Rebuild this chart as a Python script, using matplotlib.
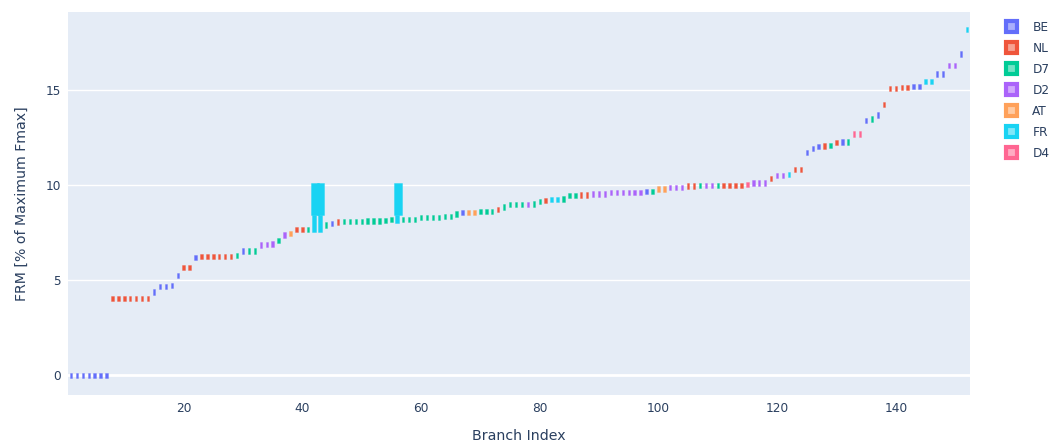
"""
FRM per branch, sorted ascending, coloured by country (plotly-style look).
"""
import matplotlib
matplotlib.use("Agg")
import matplotlib.pyplot as plt
from matplotlib.patches import Patch
from matplotlib.colors import to_rgba


COUNTRIES = ["BE", "NL", "D7", "D2", "AT", "FR", "D4"]
COLORS = {
    "BE": "#636EFA",
    "NL": "#EF553B",
    "D7": "#00CC96",
    "D2": "#AB63FA",
    "AT": "#FFA15A",
    "FR": "#19D3F3",
    "D4": "#FF6692",
}

# country of each branch, run-length encoded (country, count), branch 1..152
COUNTRY_RUNS = [
    ("BE", 7), ("NL", 7), ("BE", 5), ("NL", 2), ("BE", 1), ("NL", 6),
    ("D7", 1), ("BE", 1), ("D7", 2), ("D2", 3), ("D7", 1), ("D2", 1),
    ("AT", 1), ("NL", 2), ("D7", 1), ("FR", 2), ("D7", 1), ("BE", 1),
    ("NL", 1), ("D7", 9), ("FR", 1), ("D7", 10), ("BE", 1), ("AT", 2),
    ("D7", 3), ("NL", 1), ("D7", 4), ("D2", 1), ("D7", 2), ("NL", 1),
    ("FR", 2), ("D7", 3), ("NL", 2), ("D2", 9), ("BE", 1), ("D7", 1),
    ("AT", 2), ("D2", 3), ("NL", 2), ("D7", 1), ("D2", 2), ("D7", 1),
    ("NL", 4), ("D4", 1), ("D2", 3), ("NL", 1), ("D2", 2), ("FR", 1),
    ("NL", 2), ("BE", 3), ("NL", 1), ("D7", 1), ("NL", 1), ("BE", 1),
    ("D7", 1), ("D4", 2), ("BE", 1), ("D7", 1), ("BE", 1), ("NL", 5),
    ("BE", 2), ("FR", 2), ("BE", 2), ("D2", 2), ("BE", 1), ("FR", 1),
]

# FRM value of each branch (% of max Fmax)
FRM = [
    0.0, 0.0, 0.0, 0.0, 0.0, 0.0, 0.0,
    4.05, 4.05, 4.05, 4.05, 4.05, 4.05, 4.05,
    4.38, 4.65, 4.65, 4.70, 5.23, 5.67, 5.67,
    6.18, 6.23, 6.23, 6.23, 6.23, 6.23, 6.23, 6.28,
    6.53, 6.53, 6.53, 6.84, 6.88, 6.90, 7.10, 7.38, 7.45,
    7.65, 7.65, 7.67, 7.65, 7.65, 7.90, 7.98, 8.05,
    8.07, 8.08, 8.08, 8.09, 8.10, 8.10, 8.11, 8.12, 8.17, 8.12,
    8.18, 8.18, 8.18, 8.28, 8.28, 8.30, 8.30, 8.33, 8.33, 8.47,
    8.54, 8.54, 8.54, 8.60, 8.60, 8.60, 8.72, 8.84,
    8.96, 8.96, 8.96, 8.96, 9.00, 9.15, 9.18, 9.23, 9.23, 9.26,
    9.44, 9.44, 9.47, 9.47, 9.53, 9.53, 9.53,
    9.61, 9.61, 9.61, 9.61, 9.61, 9.61, 9.67, 9.67,
    9.79, 9.79, 9.86, 9.86, 9.86, 9.95, 9.95,
    9.98, 9.98, 9.98, 9.98, 9.98, 9.98, 9.98, 9.98,
    10.02, 10.10, 10.10, 10.10, 10.33, 10.50, 10.50, 10.56, 10.80, 10.80,
    11.70, 11.93, 12.02, 12.05, 12.09, 12.25, 12.27, 12.27, 12.68, 12.68,
    13.39, 13.47, 13.68, 14.25, 15.07, 15.07, 15.12, 15.12, 15.17, 15.17,
    15.44, 15.44, 15.84, 15.84, 16.28, 16.28, 16.89, 18.16,
]

# branches whose values spread up to a box: branch -> (q1, q3)
SPREAD = {42: (8.42, 10.10), 43: (8.42, 10.10), 56: (8.42, 10.12)}

X_TICKS = [20, 40, 60, 80, 100, 120, 140]
Y_TICKS = [0, 5, 10, 15]

BG = "#E5ECF6"
FONT_COLOR = "#2a3f5f"


def lighten(c, a=0.5):
    r, g, b, _ = to_rgba(c)
    return (r + (1 - r) * a, g + (1 - g) * a, b + (1 - b) * a)


countries = [c for c, n in COUNTRY_RUNS for _ in range(n)]
branches = list(range(1, len(FRM) + 1))

fig = plt.figure(figsize=(10.52, 4.43), dpi=100)
ax = fig.add_axes([0.0646, 0.108, 0.8574, 0.865])
ax.set_facecolor(BG)

mark_h = 0.28   # marker height in data units
mark_w = 0.40
for b, v, c in zip(branches, FRM, countries):
    col = COLORS[c]
    edge = to_rgba(col, 0.45)
    if b in SPREAD:
        q1, q3 = SPREAD[b]
        ax.bar(b, q1 - (v - mark_h / 2), bottom=v - mark_h / 2, width=0.62,
               color=col, edgecolor=edge, linewidth=0.6, zorder=3)
        ax.bar(b + 0.08, q3 - q1, bottom=q1, width=1.3,
               color=col, edgecolor=edge, linewidth=0.6, zorder=3)
    else:
        ax.bar(b, mark_h, bottom=v - mark_h / 2, width=mark_w,
               color=col, edgecolor=edge, linewidth=0.5, zorder=3)

ax.set_xlim(0.5, 152.5)
ax.set_ylim(-1.05, 19.1)
ax.set_xticks(X_TICKS)
ax.set_yticks(Y_TICKS)
ax.grid(axis="y", color="white", linewidth=1.0, zorder=1)
ax.axhline(0, color="white", linewidth=2.0, zorder=1)
for s in ax.spines.values():
    s.set_visible(False)
ax.tick_params(length=0, colors=FONT_COLOR, labelsize=8.7, pad=5)
ax.set_xlabel("Branch Index", color=FONT_COLOR, fontsize=10.2, labelpad=10)
ax.set_ylabel("FRM [% of Maximum Fmax]", color=FONT_COLOR, fontsize=10.2, labelpad=12)

handles = [Patch(facecolor=lighten(COLORS[c], 0.45), edgecolor=COLORS[c],
                 linewidth=3.0, label=c) for c in COUNTRIES]
leg = fig.legend(handles=handles, loc="upper left", bbox_to_anchor=(0.956, 0.953),
                 frameon=False, fontsize=8.7, handlelength=0.95, handleheight=0.95,
                 handletextpad=1.25, labelspacing=0.66, borderaxespad=0,
                 borderpad=0)
for t in leg.get_texts():
    t.set_color(FONT_COLOR)

fig.savefig("out.png", dpi=100, facecolor="white")
